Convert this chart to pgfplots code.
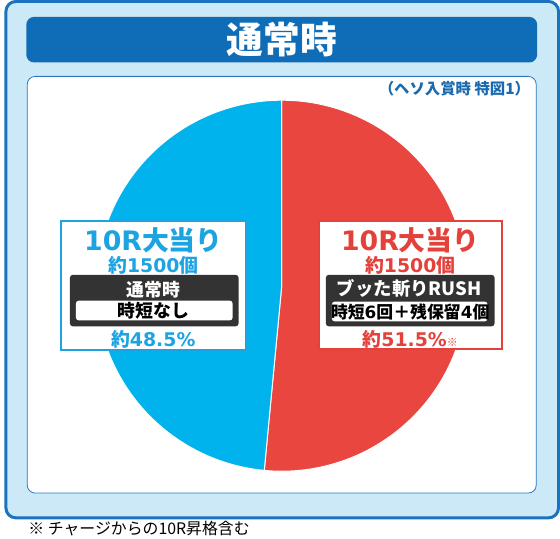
\documentclass[border=0pt]{standalone}
\usepackage{pgfplots}
\pgfplotsset{compat=1.18}
\usepackage{pgfplotstable}
\usepackage{fontspec}
\setmainfont{Noto Sans CJK JP}
\newfontfamily\lat{DejaVu Sans}
\definecolor{outerFill}{HTML}{CCE9F8}
\definecolor{outerLine}{HTML}{1B72BE}
\definecolor{titleBar}{HTML}{0F6CB6}
\definecolor{innerLine}{HTML}{2C77C0}
\definecolor{pieBlue}{HTML}{00B3EC}
\definecolor{pieRed}{HTML}{E94640}
\definecolor{txtBlue}{HTML}{1CA3E1}
\definecolor{txtRed}{HTML}{E4413B}
\definecolor{darkBox}{HTML}{333333}
\definecolor{subBlue}{HTML}{1A6AB0}

\pgfplotstableread{
label value
rush 51.5
normal 48.5
}\piedata

\newcommand{\fs}[1]{\fontsize{#1pt}{#1pt}\selectfont}
\newcommand{\LT}[1]{{\lat\bfseries #1}}

\begin{document}
\pgfplotstablegetelem{0}{value}\of\piedata
\let\va\pgfplotsretval
\pgfmathsetmacro\aend{90-3.6*\va}
\pgfmathsetmacro\astart{90-360}
\begin{tikzpicture}[x=1pt,y=1pt,every node/.style={inner sep=0pt}]
\useasboundingbox (0,0) rectangle (560,543);
% outer frame
\draw[outerLine, line width=3pt, fill=outerFill, rounded corners=10pt] (1.5,21) rectangle (558.5,541.5);
% title bar
\fill[titleBar, rounded corners=8pt] (22,480) rectangle (537,526);
\node[text=white, font=\fs{37}\bfseries] at (279.5,503) {通常時};
% inner white box
\draw[innerLine, line width=0.8pt, fill=white, rounded corners=8pt] (23,46) rectangle (536,466);
\node[anchor=east, text=subBlue, font=\fs{15.5}\bfseries] at (530,454) {（ヘソ入賞時 特図1）};
% pie
\begin{axis}[at={(279.5pt,255pt)}, anchor=center, x=1pt, y=1pt,
  xmin=-187, xmax=187, ymin=-187, ymax=187, hide axis, clip=false, scale only axis]
\addplot[fill=pieRed, draw=white, line width=1pt, domain=\aend:90, samples=160, variable=\t]
  ({187*cos(\t)},{187*sin(\t)}) -- (axis cs:0,0) -- cycle;
\addplot[fill=pieBlue, draw=white, line width=1pt, domain=\astart:\aend, samples=160, variable=\t]
  ({187*cos(\t)},{187*sin(\t)}) -- (axis cs:0,0) -- cycle;
\end{axis}
% blue label box
\draw[txtBlue, line width=2pt, fill=white] (57,190) rectangle (243,320);
\fill[darkBox, rounded corners=3pt] (66,214) rectangle (236,266);
\fill[white, rounded corners=3pt] (72,220) rectangle (230,240);
\node[text=txtBlue, font=\fs{27}\bfseries] at (150,301) {\LT{10R}大当り};
\node[text=txtBlue, font=\fs{19}\bfseries] at (150,276) {約\LT{1500}個};
\node[text=white, font=\fs{18}\bfseries] at (150,251) {通常時};
\node[text=black, font=\fs{18}\bfseries] at (150,230) {時短なし};
\node[text=txtBlue, font=\fs{19}\bfseries] at (150,201) {約\LT{48.5\%}};
% red label box
\draw[txtRed, line width=2pt, fill=white] (317,191) rectangle (502,320);
\fill[darkBox, rounded corners=3pt] (324,214) rectangle (494,266);
\fill[white, rounded corners=3pt] (330,219) rectangle (487,239);
\node[text=txtRed, font=\fs{27}\bfseries] at (409,301) {\LT{10R}大当り};
\node[text=txtRed, font=\fs{19}\bfseries] at (409,276) {約\LT{1500}個};
\node[text=white, font=\fs{18.5}\bfseries] at (408,252) {ブッた斬りRUSH};
\node[text=black, font=\fs{17}\bfseries] at (409,229) {時短\LT{6}回＋残保留\LT{4}個};
\node[text=txtRed, font=\fs{19}\bfseries] at (409,201) {約\LT{51.5\%}{\fs{11}※}};
% footnote
\node[anchor=west, text=black, font=\fs{16}] at (24,10) {※ チャージからの10R昇格含む};
\end{tikzpicture}
\end{document}
